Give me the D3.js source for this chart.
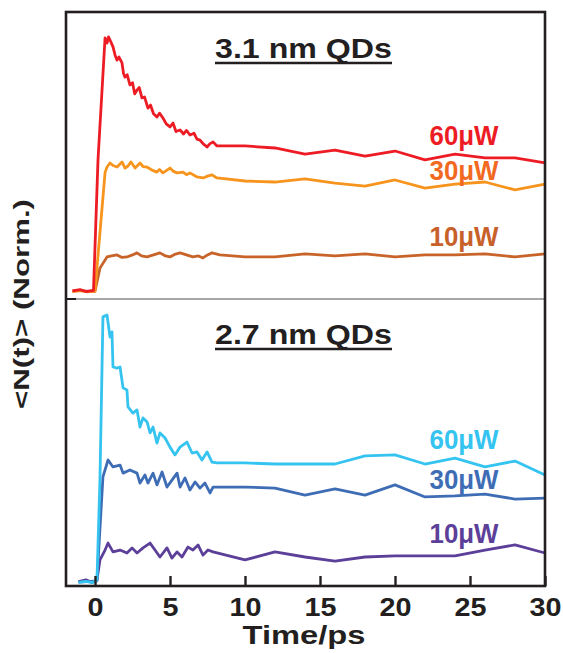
<!DOCTYPE html>
<html>
<head>
<meta charset="utf-8">
<script src="https://cdn.jsdelivr.net/npm/d3@7"></script>
<style>
body { margin: 0; background: #fff; }
text { font-family: "Liberation Sans", Arial, sans-serif; font-weight: bold; }
</style>
</head>
<body>
<svg id="chart" width="563" height="653"></svg>
<script>
"use strict";

//
//	Data. Each point is [time in ps, <N(t)> normalised to 100]
//
var xTicks = [0, 5, 10, 15, 20, 25, 30];
var panelTitles = ["3.1 nm QDs", "2.7 nm QDs"];
var powerLabels = ["60\u03bcW", "30\u03bcW", "10\u03bcW"];

var top60 = [[-1.5,0.4],[-1.0,0.9],[-0.6,0.2],[-0.1,0.6],[0.2,52],[0.67,100],[0.8,98],[0.9,100.4],[1.0,99.2],
	[1.2,96.5],[1.35,93],[1.47,91.3],[1.6,92.5],[1.8,90.2],[1.9,86],[2.0,84.6],[2.15,85.5],[2.33,81.5],[2.5,82.4],
	[2.65,78],[2.8,79.5],[2.95,80.5],[3.13,76.4],[3.3,76.8],[3.53,72.4],[3.7,73.6],[3.9,70.2],[4.13,68.9],
	[4.3,70.4],[4.53,68.5],[4.75,66.2],[5.0,65],[5.2,66.5],[5.4,63.2],[5.67,63.8],[5.9,62.2],[6.1,63.6],
	[6.33,61.8],[6.6,62.5],[6.8,60.2],[7.0,59.8],[7.2,58.4],[7.47,57.1],[7.65,58.3],[7.87,59.1],[8.13,57.5],
	[10,57.5],[12,56.7],[14,54.3],[16,55.9],[18,53.5],[20,55.5],[22,52],[24,54.3],[26,52.8],[28,52.8],[30,50.8]];

var top30 = [[-1.5,0.2],[-1.0,0.5],[-0.5,0.1],[0,0.4],[0.67,47],[0.8,49.2],[1.0,50.8],[1.2,49.8],[1.47,49.2],
	[1.8,51.2],[2.0,48.8],[2.2,49.6],[2.4,51.2],[2.67,48.8],[3.0,50.8],[3.2,49.4],[3.47,49.2],[3.8,48],
	[4.13,47.2],[4.3,48.2],[4.53,46.9],[5.0,48.8],[5.2,47.6],[5.47,46.9],[5.87,47.2],[6.1,46.2],[6.33,46.9],
	[6.8,45.3],[7.2,44.9],[7.5,45.6],[7.8,46.1],[8.13,44.9],
	[10,43.7],[12,43.3],[14,44.5],[16,42.9],[18,41.7],[20,44.1],[22,40.9],[24,42.5],[26,43.3],[28,40.2],[30,42.5]];

var top10 = [[-1.5,0.3],[-1.0,0.6],[-0.5,0.2],[0,0.3],[0.33,9.4],[0.8,13.8],[1.1,14.2],[1.47,14.6],[1.8,13.6],
	[2.13,13.8],[2.5,14.6],[2.8,15.4],[3.1,14.2],[3.47,13.8],[3.9,14.6],[4.33,15.4],[4.7,14.2],[5.0,13.8],
	[5.3,14.8],[5.67,15.4],[6.1,14.6],[6.53,13.8],[6.9,14.2],[7.2,13.4],[7.5,14.6],[7.8,15.4],[8.33,14.6],
	[10,13.8],[12,13.8],[14,15],[16,14.2],[18,15],[20,13.8],[22,14.6],[24,14.6],[26,15],[28,13.8],[30,15]];

var bot60 = [[-1.1,0.2],[-0.6,0.6],[-0.2,0.1],[0.13,1],[0.33,38.4],[0.53,99.3],[0.8,100],[1.0,91.8],[1.13,93.7],
	[1.2,80.6],[1.47,80.2],[1.67,80.6],[1.87,72.8],[2.13,72],[2.2,65.7],[2.53,63.4],[2.8,64.6],[3.0,58.2],
	[3.2,61.6],[3.47,60.1],[3.67,56],[3.87,58.2],[4.13,52.2],[4.33,56],[4.67,54.1],[5.0,50.7],[5.33,47.8],
	[5.67,50.7],[6.13,52.6],[6.47,48.5],[6.8,48.9],[7.13,45.9],[7.47,48.9],[7.8,45.1],[8.13,44.8],
	[10,44.8],[12,44.4],[14,44.4],[16,44.4],[18,47.4],[20,47.8],[22,44.4],[24,46.6],[26,43.3],[28,45.5],[30,40.3]];

var bot30 = [[-1.1,0.3],[-0.5,0.5],[0.13,0.8],[0.53,39.6],[0.87,45.9],[1.2,43.3],[1.67,44],[1.87,41],[2.33,42.2],
	[2.8,41],[3.0,37.3],[3.33,40.3],[3.53,37.3],[3.87,41],[4.13,36.6],[4.47,41.4],[4.8,35.8],[5.13,38.4],
	[5.47,41],[5.67,35.8],[6.0,39.2],[6.33,34.7],[6.67,37.7],[7.0,35.4],[7.33,37.3],[7.67,33.6],[7.87,35.8],
	[10,35.8],[12,35.4],[14,32.8],[16,35.1],[18,32.8],[20,36.6],[22,32.1],[24,32.5],[26,33.2],[28,31.3],[30,31.7]];

var bot10 = [[-1.1,0.5],[-0.6,1.2],[-0.2,0.2],[0.13,1.1],[0.33,8.6],[0.67,12.3],[0.87,14.9],[1.2,11.6],
	[1.67,12.3],[2.13,11.2],[2.47,13.1],[2.8,11.2],[3.2,13.1],[3.67,14.9],[4.0,12.3],[4.33,9.7],[4.8,13.1],
	[5.13,9.3],[5.47,11.6],[5.8,9.7],[6.2,13.4],[6.53,12.3],[6.87,14.2],[7.2,10.4],[7.53,12.3],[7.87,11.6],
	[10,8.6],[12,11.6],[14,9.7],[16,8.2],[18,9.7],[20,10.1],[22,10.1],[24,10.1],[26,12.3],[28,14.2],[30,11.2]];

var topSeries = [top60, top30, top10];
var botSeries = [bot60, bot30, bot10];
var topColors = ["#ed1c24", "#f7941d", "#c8642a"];
var botColors = ["#35c3f0", "#3e6db5", "#5b3f99"];
var topLabelColors = ["#ed1c24", "#f26a21", "#c8602a"];
var topLabelN = [58, 44, 18];     // label baseline, in panel units
var botLabelN = [50, 35, 15];

//
//	Layout
//
var svg = d3.select("#chart");
var frameL = 66, frameR = 545, frameT = 12, frameMid = 299, frameB = 586;
var ink = "#231f20";

var x = d3.scaleLinear().domain([-2, 30]).range([65, 545]);
var yTop = d3.scaleLinear().domain([0, 100]).range([292, 38]);
var yBot = d3.scaleLinear().domain([0, 100]).range([583, 315]);

//	the figure's lettering is a wide bold sans: stretch text to the measured width
function wideText(parent, cx, cy, size, width, txt){
	return parent.append("text").attr("x", cx).attr("y", cy)
		.attr("text-anchor", "middle")
		.attr("font-size", size)
		.attr("textLength", width)
		.attr("lengthAdjust", "spacingAndGlyphs")
		.text(txt);
}

function drawPanel(series, colors, labelColors, labelN, y, title, titleY){
	var line = d3.line().x(function(d){ return x(d[0]); }).y(function(d){ return y(d[1]); });
	var g = svg.append("g");
	for (var i = series.length - 1; i >= 0; i--) {
		g.append("path").datum(series[i])
			.attr("d", line)
			.attr("fill", "none")
			.attr("stroke", colors[i])
			.attr("stroke-width", 2.8)
			.attr("stroke-linejoin", "round");
	}
	// power labels on the right
	for (var j = 0; j < powerLabels.length; j++) {
		wideText(g, x(24.6), y(labelN[j]), 27, 69, powerLabels[j]).attr("fill", labelColors[j]);
	}
	// underlined panel title
	wideText(g, 303.5, titleY, 28, 177, title).attr("fill", ink);
	g.append("line").attr("x1", 215).attr("x2", 392).attr("y1", titleY + 5).attr("y2", titleY + 5)
		.attr("stroke", ink).attr("stroke-width", 2.4);
}

drawPanel(topSeries, topColors, topLabelColors, topLabelN, yTop, panelTitles[0], 58);
drawPanel(botSeries, botColors, botColors, botLabelN, yBot, panelTitles[1], 344);

//	divider between the panels, plus the little black tick at the left
svg.append("line").attr("x1", frameL).attr("x2", frameR).attr("y1", frameMid).attr("y2", frameMid)
	.attr("stroke", "#8a8a8a").attr("stroke-width", 1.6);
svg.append("line").attr("x1", frameL).attr("x2", 76).attr("y1", frameMid).attr("y2", frameMid)
	.attr("stroke", ink).attr("stroke-width", 2);

//	frame
svg.append("rect").attr("x", frameL).attr("y", frameT)
	.attr("width", frameR - frameL).attr("height", frameB - frameT)
	.attr("fill", "none").attr("stroke", ink).attr("stroke-width", 2.6);

//	bottom axis, ticks pointing inward
var xAxis = d3.axisBottom(x).tickValues(xTicks).tickSizeInner(-10).tickSizeOuter(0).tickPadding(12);
var ax = svg.append("g").attr("transform", "translate(0," + frameB + ")").call(xAxis);
ax.select(".domain").remove();
ax.selectAll(".tick line").attr("stroke", ink).attr("stroke-width", 2.4);
ax.selectAll(".tick text").attr("font-size", 26).attr("fill", ink)
	.attr("font-family", "Liberation Sans, Arial, sans-serif").attr("font-weight", "bold")
	.attr("textLength", function(d){ return String(d).length * 16; })
	.attr("lengthAdjust", "spacingAndGlyphs");

//	axis titles
wideText(svg, 304, 644, 26, 123, "Time/ps").attr("fill", ink);
svg.append("text").attr("transform", "translate(29,304) rotate(-90)")
	.attr("text-anchor", "middle").attr("font-size", 22).attr("fill", ink)
	.attr("textLength", 210).attr("lengthAdjust", "spacingAndGlyphs")
	.text("<N(t)> (Norm.)");
</script>
</body>
</html>
